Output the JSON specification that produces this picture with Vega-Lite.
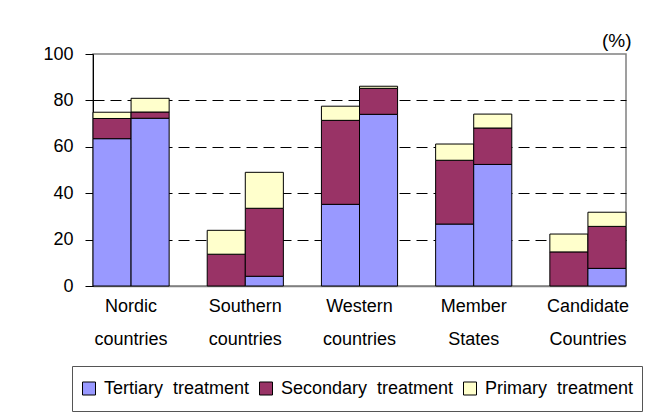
{
  "$schema": "https://vega.github.io/schema/vega-lite/v6.json",
  "autosize": {"type": "none"},
  "padding": {"left": 93, "top": 54, "right": 27, "bottom": 126},
  "width": 533,
  "height": 232,
  "background": "white",
  "config": {
    "font": "Liberation Sans",
    "view": {"stroke": "#808080", "strokeWidth": 1.5},
    "axis": {"labelColor": "black", "labelFont": "Liberation Sans", "titleFont": "Liberation Sans"}
  },
  "data": {
    "values": [
      {"region": "Nordic countries", "period": "Period 1", "treatment": "Tertiary treatment", "pct": 63.5},
      {"region": "Nordic countries", "period": "Period 1", "treatment": "Secondary treatment", "pct": 8.7},
      {"region": "Nordic countries", "period": "Period 1", "treatment": "Primary treatment", "pct": 2.7},
      {"region": "Nordic countries", "period": "Period 2", "treatment": "Tertiary treatment", "pct": 72.3},
      {"region": "Nordic countries", "period": "Period 2", "treatment": "Secondary treatment", "pct": 2.7},
      {"region": "Nordic countries", "period": "Period 2", "treatment": "Primary treatment", "pct": 5.9},
      {"region": "Southern countries", "period": "Period 1", "treatment": "Secondary treatment", "pct": 13.7},
      {"region": "Southern countries", "period": "Period 1", "treatment": "Primary treatment", "pct": 10.3},
      {"region": "Southern countries", "period": "Period 2", "treatment": "Tertiary treatment", "pct": 4.2},
      {"region": "Southern countries", "period": "Period 2", "treatment": "Secondary treatment", "pct": 29.3},
      {"region": "Southern countries", "period": "Period 2", "treatment": "Primary treatment", "pct": 15.5},
      {"region": "Western countries", "period": "Period 1", "treatment": "Tertiary treatment", "pct": 35.2},
      {"region": "Western countries", "period": "Period 1", "treatment": "Secondary treatment", "pct": 36.2},
      {"region": "Western countries", "period": "Period 1", "treatment": "Primary treatment", "pct": 6.1},
      {"region": "Western countries", "period": "Period 2", "treatment": "Tertiary treatment", "pct": 74.0},
      {"region": "Western countries", "period": "Period 2", "treatment": "Secondary treatment", "pct": 11.2},
      {"region": "Western countries", "period": "Period 2", "treatment": "Primary treatment", "pct": 0.9},
      {"region": "Member States", "period": "Period 1", "treatment": "Tertiary treatment", "pct": 26.7},
      {"region": "Member States", "period": "Period 1", "treatment": "Secondary treatment", "pct": 27.5},
      {"region": "Member States", "period": "Period 1", "treatment": "Primary treatment", "pct": 7.0},
      {"region": "Member States", "period": "Period 2", "treatment": "Tertiary treatment", "pct": 52.4},
      {"region": "Member States", "period": "Period 2", "treatment": "Secondary treatment", "pct": 15.7},
      {"region": "Member States", "period": "Period 2", "treatment": "Primary treatment", "pct": 6.0},
      {"region": "Candidate Countries", "period": "Period 1", "treatment": "Secondary treatment", "pct": 14.7},
      {"region": "Candidate Countries", "period": "Period 1", "treatment": "Primary treatment", "pct": 7.7},
      {"region": "Candidate Countries", "period": "Period 2", "treatment": "Tertiary treatment", "pct": 7.6},
      {"region": "Candidate Countries", "period": "Period 2", "treatment": "Secondary treatment", "pct": 18.1},
      {"region": "Candidate Countries", "period": "Period 2", "treatment": "Primary treatment", "pct": 6.1}
    ]
  },
  "mark": {"type": "bar", "stroke": "black", "strokeWidth": 1},
  "encoding": {
    "x": {
      "field": "region",
      "type": "nominal",
      "sort": null,
      "scale": {"paddingInner": 0.3333, "paddingOuter": 0},
      "axis": {
        "title": null,
        "labelAngle": 0,
        "labelExpr": "split(datum.label, ' ')",
        "labelFontSize": 18,
        "labelLineHeight": 33,
        "labelPadding": 11,
        "labelBaseline": "top",
        "ticks": false,
        "tickSize": 0,
        "domainColor": "#808080",
        "domainWidth": 1.5,
        "labelLimit": 200
      }
    },
    "xOffset": {"field": "period", "type": "nominal", "scale": {"paddingInner": 0, "paddingOuter": 0}},
    "y": {
      "field": "pct",
      "type": "quantitative",
      "stack": "zero",
      "scale": {"domain": [0, 100], "nice": false},
      "axis": {
        "title": "(%)",
        "titleAngle": 0,
        "titleX": 538,
        "titleY": -14,
        "titleAlign": "right",
        "titleBaseline": "middle",
        "titleFontSize": 19,
        "titleFontWeight": "normal",
        "titleColor": "black",
        "values": [0, 20, 40, 60, 80, 100],
        "labelFontSize": 18,
        "labelPadding": 12,
        "tickSize": 8,
        "tickColor": "black",
        "domainColor": "black",
        "domainWidth": 1,
        "grid": true,
        "gridColor": "black",
        "gridDash": [11, 6],
        "gridWidth": 1,
        "gridOpacity": {"condition": {"test": "datum.value === 0 || datum.value === 100", "value": 0}, "value": 1}
      }
    },
    "color": {
      "field": "treatment",
      "type": "nominal",
      "scale": {
        "domain": ["Tertiary treatment", "Secondary treatment", "Primary treatment"],
        "range": ["#9999FF", "#993366", "#FFFFCC"]
      },
      "legend": {
        "title": null,
        "orient": "none",
        "legendX": -21,
        "legendY": 312,
        "direction": "horizontal",
        "columns": 3,
        "columnPadding": 7,
        "padding": 8,
        "clipHeight": 29,
        "strokeColor": "#555555",
        "fillColor": "white",
        "symbolType": "square",
        "symbolSize": 169,
        "symbolStrokeColor": "black",
        "symbolStrokeWidth": 1,
        "symbolOpacity": 1,
        "labelFontSize": 18,
        "labelColor": "black",
        "labelOffset": 6,
        "labelLimit": 300,
        "labelExpr": "replace(datum.label, ' ', '\u00a0 ')"
      }
    },
    "order": {"field": "treatment", "sort": "descending"}
  }
}
